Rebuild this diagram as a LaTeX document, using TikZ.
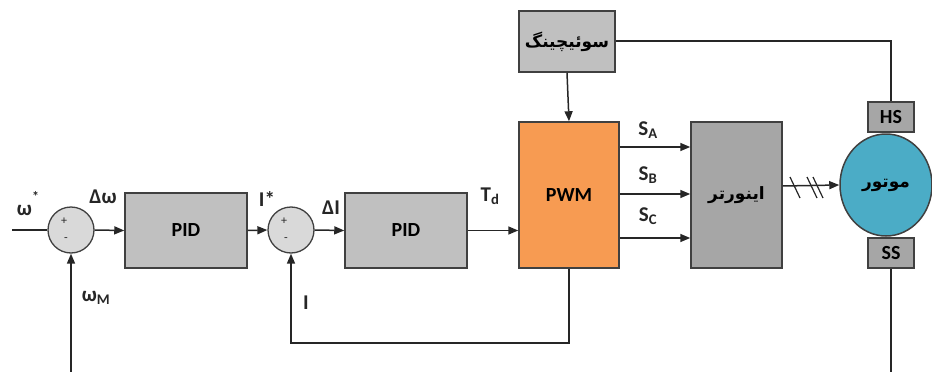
\documentclass[tikz,border=0pt]{standalone}
\usepackage{fontspec}
\setmainfont{Carlito}
\newfontfamily\fa[Script=Arabic]{DejaVu Sans}
\TeXXeTstate=1
\usetikzlibrary{arrows.meta,shapes.geometric,calc}
\definecolor{ln}{HTML}{262626}
\definecolor{bd}{HTML}{404040}
\definecolor{pidc}{HTML}{C0C0C0}
\definecolor{sumc}{HTML}{D9D9D9}
\definecolor{pwmc}{HTML}{F79B52}
\definecolor{invc}{HTML}{A6A6A6}
\definecolor{motc}{HTML}{4BACC6}
\begin{document}
\begin{tikzpicture}[x=1pt,y=-1pt,
  blk/.style={draw=bd,line width=1.5pt,rectangle,inner sep=0pt,font=\fontsize{20}{22}\selectfont\bfseries},
  sumnode/.style={draw=bd,line width=1.3pt,circle,fill=sumc,minimum size=46pt,inner sep=0pt},
  lbl/.style={font=\fontsize{21}{23}\selectfont\bfseries,inner sep=0pt,text=ln},
  pm/.style={font=\fontsize{12}{13}\selectfont,inner sep=0pt,text=ln},
  wire/.style={draw=ln,line width=1.5pt},
  arr/.style={wire,-{Triangle[length=10pt,width=8pt]}}]
\useasboundingbox (0,0) rectangle (932,372);

% blocks
\node[sumnode] (s1) at (71,230) {};
\node[sumnode] (s2) at (291,230) {};
\node[blk,fill=pidc,minimum width=122pt,minimum height=75pt] (pid1) at (186,230.5) {PID};
\node[blk,fill=pidc,minimum width=122pt,minimum height=75pt] (pid2) at (406,230.5) {PID};
\node[blk,fill=pwmc,minimum width=100pt,minimum height=146pt] (pwm) at (569,195) {PWM};
\node[blk,fill=pidc,minimum width=96pt,minimum height=61pt] (sw) at (567,41.5) {\fa\bfseries\fontsize{17}{20}\selectfont\beginR سوئیچینگ\endR};
\node[blk,fill=invc,minimum width=91pt,minimum height=146pt] (inv) at (736.5,195) {\fa\bfseries\fontsize{17}{20}\selectfont\beginR اینورتر\endR};
\node[draw=bd,line width=1.5pt,ellipse,fill=motc,minimum width=92pt,minimum height=102pt,inner sep=0pt] (mot) at (886,185) {\fa\bfseries\fontsize{17}{20}\selectfont\beginR موتور\endR};
\node[blk,fill=invc,minimum width=46pt,minimum height=30pt] (hs) at (891,117) {HS};
\node[blk,fill=invc,minimum width=46pt,minimum height=30pt] (ss) at (891,253) {SS};

% signs
\node[pm] at ($(s1)+(-7,-9)$) {+};
\node[pm] at ($(s1)+(-5,10)$) {-};
\node[pm] at ($(s2)+(-7,-9)$) {+};
\node[pm] at ($(s2)+(-5,10)$) {-};

% free ends
\coordinate (in) at (12,230);
\coordinate (wm) at (71,372);
\coordinate (ssend) at (891,372);
\coordinate (fb) at (569,343);

% connectors
\draw[wire] (in) -- (s1.west);
\draw[arr] (s1.east) -- (pid1.west);
\draw[arr] (pid1.east) -- (s2.west);
\draw[arr] (s2.east) -- (pid2.west);
\draw[arr] (pid2.east) -- (pid2.east -| pwm.west);
\draw[arr] (wm) -- (s1.south);
\draw[arr] (pwm.south) -- (fb) -| (s2.south);
\draw[arr] (sw.south) -- (pwm.north);
\draw[wire] (sw.east |- 0,41) -| (hs.north);
\draw[wire] (ss.south) -- (ssend);
\foreach \yy in {147,194,238}
  \draw[arr] (pwm.east |- 0,\yy) -- (inv.west |- 0,\yy);
\draw[arr] (inv.east |- 0,186) -- (mot.west);
\foreach \xx in {790,807,813}
  \draw[wire,line width=1.2pt] (\xx,177) -- (\xx+10,198);

% labels
\node[lbl] at (28,204) {ω\raisebox{14pt}{\fontsize{14}{15}\selectfont *}};
\node[lbl] at (103,197) {Δω};
\node[lbl] at (96,298) {ω\textsubscript{M}};
\node[lbl] at (267,199) {I*};
\node[lbl] at (331,208) {ΔI};
\node[lbl] at (306,303) {I};
\node[lbl] at (490,196) {T\textsubscript{d}};
\node[lbl] at (648,130) {S\textsubscript{A}};
\node[lbl] at (648,175) {S\textsubscript{B}};
\node[lbl] at (648,216) {S\textsubscript{C}};
\end{tikzpicture}
\end{document}
